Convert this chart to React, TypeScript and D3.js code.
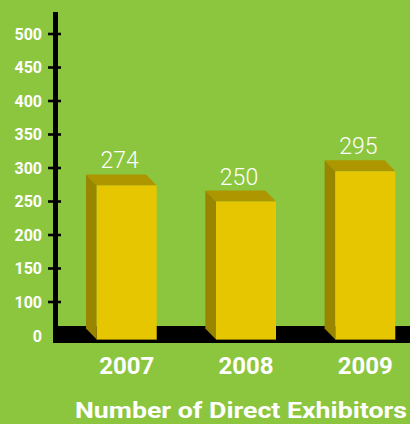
import * as d3 from "d3";

const years = ["2007", "2008", "2009"];
const exhibitors = [274, 250, 295];
const tickValues = [0, 100, 150, 200, 250, 300, 350, 400, 450, 500];
const title = "Number of Direct Exhibitors";

const W = 410;
const H = 424;
const floorTop = 326;
const floorBottom = 343;
const barBase = 339.5;
const depthX = 10.7;
const depthY = 11;

const FRONT = "#e5c600";
const TOP = "#ad9600";
const SIDE = "#988500";
const BG = "#8cc63f";

export default function App() {
  const x = d3.scaleBand<string>().domain(years).range([96.7, 395.3]).paddingInner(0.497).paddingOuter(0);
  // the axis labels skip 50, so "0" sits one step below 100
  const y = d3.scaleLinear().domain([0, 100, 500]).range([336, 302, 34]);
  const bw = x.bandwidth();

  return (
    <>
      <style>{`body{margin:0}`}</style>
      <svg width={W} height={H} style={{ display: "block", fontFamily: "Roboto, sans-serif" }}>
        <rect width={W} height={H} fill={BG} />

        {/* floor */}
        <rect x={53} y={floorTop} width={W - 53} height={floorBottom - floorTop} fill="#000" />

        {/* y axis */}
        <rect x={53} y={12} width={5} height={floorBottom - 12} fill="#000" />
        {tickValues.map((t) => (
          <g key={t}>
            {t > 0 && <line x1={48} x2={61} y1={y(t)} y2={y(t)} stroke="#000" strokeWidth={2.6} />}
            <text
              x={42}
              y={y(t)}
              textAnchor="end"
              dominantBaseline="central"
              fill="#fff"
              fontWeight={700}
              fontSize={16}
            >
              {t}
            </text>
          </g>
        ))}

        {/* bars */}
        {years.map((yr, i) => {
          const x0 = x(yr)!;
          const x1 = x0 + bw;
          const top = y(exhibitors[i]);
          const side = `${x0},${top} ${x0 - depthX},${top - depthY} ${x0 - depthX},${barBase - depthY} ${x0},${barBase}`;
          const cap = `${x0},${top} ${x0 - depthX},${top - depthY} ${x1 - depthX},${top - depthY} ${x1},${top}`;
          return (
            <g key={yr}>
              <polygon points={side} fill={SIDE} />
              <polygon points={cap} fill={TOP} />
              <rect x={x0} y={top} width={bw} height={barBase - top} fill={FRONT} />
              <line x1={x0} x2={x1} y1={barBase} y2={barBase} stroke="#8a7800" strokeWidth={1} />
              <text
                x={x0 + bw / 2 - 7}
                y={top - depthY - 6}
                textAnchor="middle"
                fill="#fff"
                fontWeight={300}
                fontSize={23}
              >
                {exhibitors[i]}
              </text>
              <text x={x0 + bw / 2} y={374} textAnchor="middle" fill="#fff" fontWeight={700} fontSize={24}>
                {yr}
              </text>
            </g>
          );
        })}

        <text
          x={75}
          y={418}
          fill="#fff"
          fontWeight={700}
          fontSize={22.5}
          textLength={332}
          lengthAdjust="spacingAndGlyphs"
        >
          {title}
        </text>
      </svg>
    </>
  );
}
